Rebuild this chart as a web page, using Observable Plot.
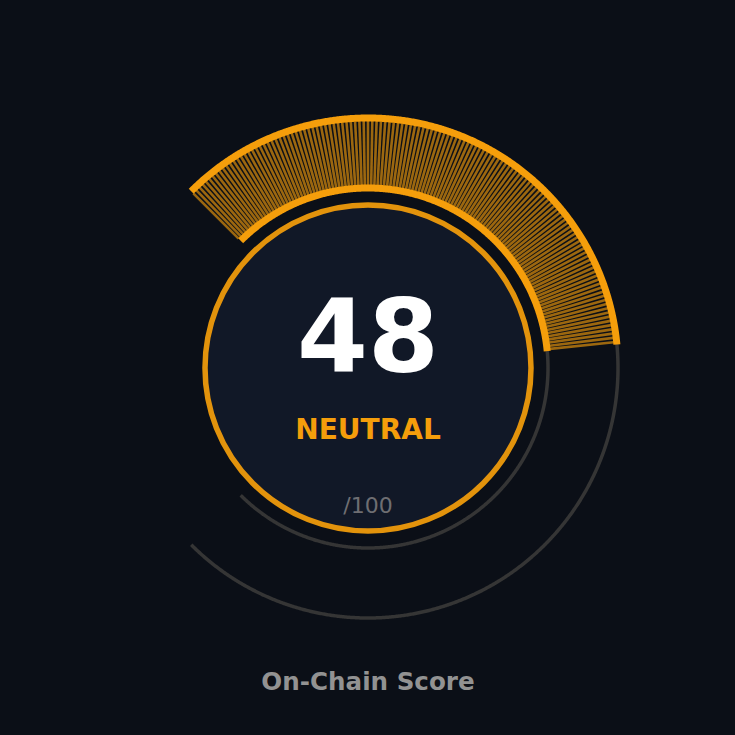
<!DOCTYPE html>
<html><head><meta charset="utf-8">
<script src="https://cdn.jsdelivr.net/npm/d3@7"></script>
<script src="https://cdn.jsdelivr.net/npm/@observablehq/plot@0.6"></script>
<style>html,body{margin:0;padding:0;background:#0b0f17;} #chart svg{display:block}</style>
</head><body><div id="chart"></div>
<script>
// ---- data ----
const scores = [48];
const scoreMax = [100];
const scoreLabels = ["NEUTRAL"];
const scoreSuffix = ["/100"];
const chartTitles = ["On-Chain Score"];
const tickCount = [270]; // tick marks across the full gauge

// ---- geometry helpers ----
const W = 735, H = 735;
const rInner = 180, rOuter = 250, rDial = 163;
const angle = d3.scaleLinear().domain([0, scoreMax[0]]).range([-45, 225]);
function pt(v, r) { const a = angle(v) * Math.PI / 180; return {x: r * Math.sin(a), y: r * Math.cos(a)}; }
function arc(v0, v1, r) {
  const n = Math.max(2, Math.ceil((v1 - v0) / 0.1));
  return d3.range(n + 1).map(i => pt(v0 + (v1 - v0) * i / n, r));
}
const value = scores[0];
const tickStep = scoreMax[0] / tickCount[0];
const trackInner = arc(0, scoreMax[0], rInner), trackOuter = arc(0, scoreMax[0], rOuter);
const progInner = arc(0, value, rInner), progOuter = arc(0, value, rOuter);
const ticks = d3.range(0, Math.floor(value / tickStep + 1e-9) + 1).map(i => {
  const v = i * tickStep, a = pt(v, 183), b = pt(v, 247);
  return {x1: a.x, y1: a.y, x2: b.x, y2: b.y};
});

const orange = "#f59e0b";
const font = "DejaVu Sans";

const chart = Plot.plot({
  width: W, height: H,
  margin: 0,
  x: {domain: [-W / 2, W / 2], axis: null},
  y: {domain: [-H / 2, H / 2], axis: null},
  style: {background: "#0b0f17", fontFamily: font},
  marks: [
    Plot.line(trackInner, {x: "x", y: "y", stroke: "#353535", strokeWidth: 3.5, strokeLinecap: "butt"}),
    Plot.line(trackOuter, {x: "x", y: "y", stroke: "#353535", strokeWidth: 3.5, strokeLinecap: "butt"}),
    Plot.link(ticks, {x1: "x1", y1: "y1", x2: "x2", y2: "y2", stroke: orange, strokeOpacity: 0.62, strokeWidth: 2.6, strokeLinecap: "butt"}),
    Plot.line(progInner, {x: "x", y: "y", stroke: orange, strokeWidth: 7, strokeLinecap: "butt"}),
    Plot.line(progOuter, {x: "x", y: "y", stroke: orange, strokeWidth: 7, strokeLinecap: "butt"}),
    Plot.dot([{x: 0, y: 0}], {x: "x", y: "y", r: rDial, fill: "#111827", stroke: orange, strokeOpacity: 0.92, strokeWidth: 5.5}),
    Plot.text(scores, {text: d => String(d), frameAnchor: "top", lineAnchor: "bottom", dy: 371, fontSize: 102, fontWeight: "bold", fill: "#ffffff", fontFamily: font}),
    Plot.text(scoreLabels, {text: d => d, frameAnchor: "top", lineAnchor: "bottom", dy: 438, fontSize: 28, fontWeight: "bold", fill: orange, fontFamily: font, style: "letter-spacing:0.4px"}),
    Plot.text(scoreSuffix, {text: d => d, frameAnchor: "top", lineAnchor: "bottom", dy: 512, fontSize: 22, fill: "#6e6e72", fontFamily: font}),
    Plot.text(chartTitles, {text: d => d, frameAnchor: "top", lineAnchor: "bottom", dy: 689, fontSize: 24.6, fontWeight: "bold", fill: "#929292", fontFamily: font})
  ]
});
document.getElementById("chart").appendChild(chart);
</script>
</body></html>
